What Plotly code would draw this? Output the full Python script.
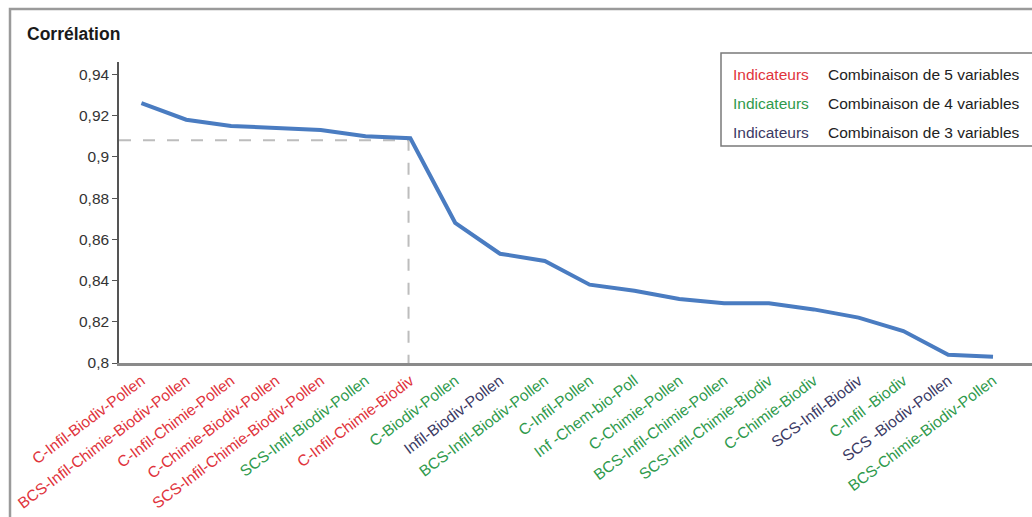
import plotly.graph_objects as go

# ---- data ----
categories = [
    "C-Infil-Biodiv-Pollen", "BCS-Infil-Chimie-Biodiv-Pollen", "C-Infil-Chimie-Pollen",
    "C-Chimie-Biodiv-Pollen", "SCS-Infil-Chimie-Biodiv-Pollen", "SCS-Infil-Biodiv-Pollen",
    "C-Infil-Chimie-Biodiv", "C-Biodiv-Pollen", "Infil-Biodiv-Pollen",
    "BCS-Infil-Biodiv-Pollen", "C-Infil-Pollen", "Inf -Chem-bio-Poll",
    "C-Chimie-Pollen", "BCS-Infil-Chimie-Pollen", "SCS-Infil-Chimie-Biodiv",
    "C-Chimie-Biodiv", "SCS-Infil-Biodiv", "C-Infil -Biodiv",
    "SCS -Biodiv-Pollen", "BCS-Chimie-Biodiv-Pollen",
]
n_variables = [5, 5, 5, 5, 5, 4, 5, 4, 3, 4, 4, 4, 4, 4, 4, 4, 3, 4, 3, 4]
correlation = [0.926, 0.918, 0.915, 0.914, 0.913, 0.910, 0.909, 0.868, 0.853, 0.8495,
               0.838, 0.835, 0.831, 0.829, 0.829, 0.826, 0.822, 0.8155, 0.804, 0.803]
y_tickvals = [0.8, 0.82, 0.84, 0.86, 0.88, 0.9, 0.92, 0.94]
y_ticktext = ["0,8", "0,82", "0,84", "0,86", "0,88", "0,9", "0,92", "0,94"]
threshold_value = 0.908
threshold_index = 6
legend_rows = [(5, "Combinaison de 5 variables"), (4, "Combinaison de 4 variables"),
               (3, "Combinaison de 3 variables")]

# ---- styles ----
group_colors = {5: "#e0343c", 4: "#2f9a4c", 3: "#3b3a64"}
FONT = "Liberation Sans, Arial, sans-serif"
FS = 15.5
W, H = 1032, 517
ML, MR, MT, MB = 119, 0, 62, 154
PW, PH = W - ML - MR, H - MT - MB


def px_x(x):
    return (x - ML) / PW


def px_y(y):
    return (H - MB - y) / PH


ticktext = [f"<span style='color:{group_colors[n]}'>{c}</span>"
            for c, n in zip(categories, n_variables)]
xs = list(range(len(categories)))

fig = go.Figure()
# threshold dashed guides
fig.add_trace(go.Scatter(
    x=[-0.5, threshold_index - 0.04, threshold_index - 0.04], y=[threshold_value, threshold_value, 0.8],
    mode="lines", line=dict(color="#bdbdbd", width=2, dash="12px,12px"),
    hoverinfo="skip", showlegend=False))
fig.add_trace(go.Scatter(
    x=xs, y=correlation, mode="lines",
    line=dict(color="#4a7cc1", width=4), showlegend=False))

shapes = [
    # outer frame (cut by image edge)
    dict(type="rect", xref="paper", yref="paper",
         x0=px_x(10), x1=px_x(1100), y0=px_y(600), y1=px_y(9),
         line=dict(color="#9a9a9a", width=2.5), layer="below"),
    # legend box
    dict(type="rect", xref="paper", yref="paper",
         x0=px_x(721), x1=px_x(1100), y0=px_y(146), y1=px_y(53),
         line=dict(color="#7a7a7a", width=1.5), fillcolor="white"),
]

annotations = [dict(text="<b>Corrélation</b>", xref="paper", yref="paper",
                    x=px_x(25), y=px_y(34), xanchor="left", yanchor="middle",
                    showarrow=False, font=dict(family=FONT, size=17.5, color="#1a1a1a"))]
for i, (n, label) in enumerate(legend_rows):
    yy = px_y(75 + i * 28.5)
    annotations.append(dict(text="Indicateurs", xref="paper", yref="paper", x=px_x(731), y=yy,
                            xanchor="left", yanchor="middle", showarrow=False,
                            font=dict(family=FONT, size=FS, color=group_colors[n])))
    annotations.append(dict(text=label, xref="paper", yref="paper", x=px_x(826), y=yy,
                            xanchor="left", yanchor="middle", showarrow=False,
                            font=dict(family=FONT, size=FS, color="#222222")))

fig.update_layout(
    width=W, height=H,
    margin=dict(l=ML, r=MR, t=MT, b=MB, pad=0),
    paper_bgcolor="white", plot_bgcolor="white",
    font=dict(family=FONT, size=FS, color="#222222"),
    shapes=shapes, annotations=annotations,
    xaxis=dict(range=[-0.5, 19.87], tickmode="array", tickvals=xs, ticktext=ticktext,
               tickangle=-37, showgrid=False, zeroline=False, showline=True,
               linecolor="#8a8a8a", linewidth=2.5, ticks="",
               tickfont=dict(family=FONT, size=FS)),
    yaxis=dict(range=[0.8, 0.946], tickmode="array", tickvals=y_tickvals, ticktext=y_ticktext,
               showgrid=False, zeroline=False, showline=True, linecolor="#555555", linewidth=1.5,
               ticks="outside", ticklen=5, tickcolor="#555555", tickwidth=1,
               tickfont=dict(family=FONT, size=FS, color="#333333")),
)

fig.write_html("out.html", config={"displayModeBar": False},
               post_script="document.body.style.margin='0';")
